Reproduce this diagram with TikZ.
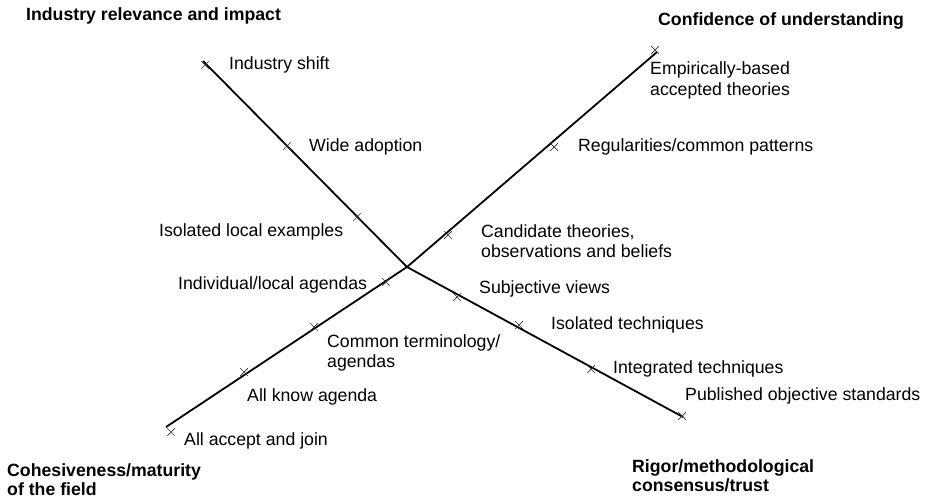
\documentclass[tikz,border=0pt]{standalone}
\usepackage{fontspec}
\setmainfont{Liberation Sans}
\usetikzlibrary{shapes.misc}
\tikzset{
  axisline/.style={line width=1.8pt, black},
  tick/.style={cross out, draw=black!80, line width=0.7pt, minimum size=7pt, inner sep=0pt},
  lbl/.style={anchor=base west, inner sep=0pt, font=\fontsize{17.7pt}{20.5pt}\selectfont},
  ttl/.style={anchor=base west, inner sep=0pt, font=\bfseries\fontsize{17.7pt}{19.5pt}\selectfont},
}
\begin{document}
\begin{tikzpicture}[x=1pt,y=-1pt]
\useasboundingbox (0,0) rectangle (929,500);
% axes
\coordinate (c) at (407,267);
\coordinate (tl) at (203,61);
\coordinate (tr) at (657,52);
\coordinate (bl) at (166,427);
\coordinate (br) at (683,417);
\draw[axisline] (c) -- (tl);
\draw[axisline] (c) -- (tr);
\draw[axisline] (c) -- (bl);
\draw[axisline] (c) -- (br);
% ticks
\node[tick] (t1) at (205,65) {};
\node[tick] (t2) at (287,146) {};
\node[tick] (t3) at (357,217) {};
\node[tick] (r1) at (655,50) {};
\node[tick] (r2) at (554,147) {};
\node[tick] (r3) at (448,235) {};
\node[tick] (b1) at (386,282) {};
\node[tick] (b2) at (314,327) {};
\node[tick] (b3) at (244,372) {};
\node[tick] (b4) at (171,432) {};
\node[tick] (s1) at (457,297) {};
\node[tick] (s2) at (519,325) {};
\node[tick] (s3) at (591,369) {};
\node[tick] (s4) at (682,416) {};
% titles
\node[ttl] (h1) at (26,21) {Industry relevance and impact};
\node[ttl] (h2) at (658,26) {Confidence of understanding};
\node[ttl] (h3) at (7,476) {\begin{tabular}[t]{@{}l@{}}Cohesiveness/maturity\\of the field\end{tabular}};
\node[ttl] (h4) at (632,472) {\begin{tabular}[t]{@{}l@{}}Rigor/methodological\\consensus/trust\end{tabular}};
% labels
\node[lbl] (l1) at (229,70) {Industry shift};
\node[lbl] (l2) at (309,152) {Wide adoption};
\node[lbl] (l3) at (159,236) {Isolated local examples};
\node[lbl] (l4) at (178,289) {Individual/local agendas};
\node[lbl] (l5) at (650,75) {\begin{tabular}[t]{@{}l@{}}Empirically-based\\accepted theories\end{tabular}};
\node[lbl] (l6) at (578,152) {Regularities/common patterns};
\node[lbl] (l7) at (481,237) {\begin{tabular}[t]{@{}l@{}}Candidate theories,\\observations and beliefs\end{tabular}};
\node[lbl] (l8) at (479,293) {Subjective views};
\node[lbl] (l9) at (551,329) {Isolated techniques};
\node[lbl] (l10) at (327,347) {\begin{tabular}[t]{@{}l@{}}Common terminology/\\agendas\end{tabular}};
\node[lbl] (l11) at (613,373) {Integrated techniques};
\node[lbl] (l12) at (247,401) {All know agenda};
\node[lbl] (l13) at (685,400) {Published objective standards};
\node[lbl] (l14) at (184,445) {All accept and join};
\end{tikzpicture}
\end{document}
